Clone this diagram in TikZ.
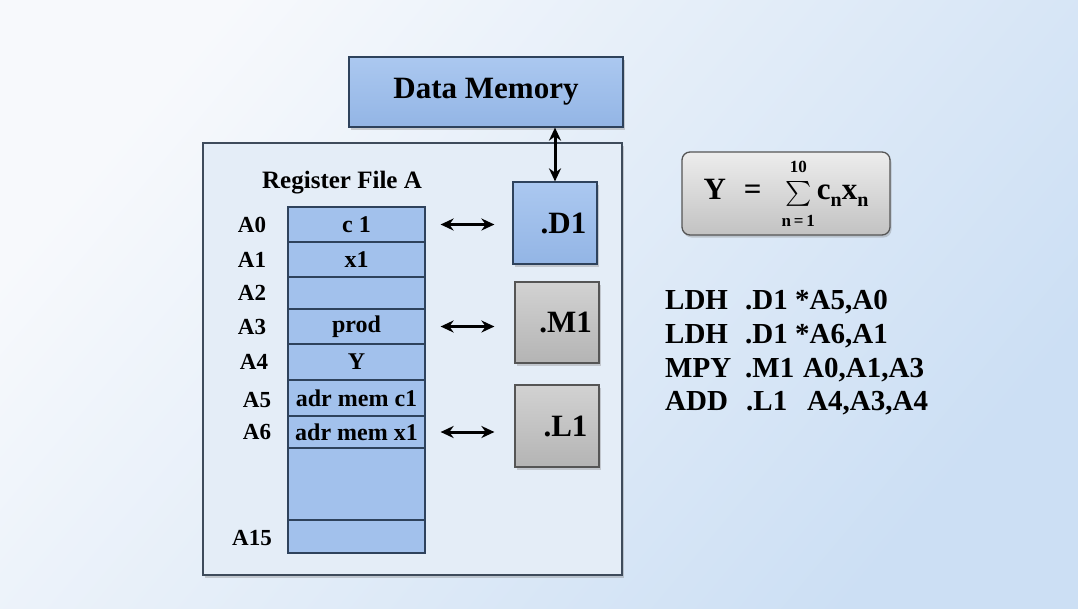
\documentclass[tikz,border=0pt]{standalone}
\usepackage{amsmath}
\usepackage{fontspec}
\setmainfont{Liberation Serif}
\usetikzlibrary{arrows.meta,shadows}
\definecolor{bgA}{HTML}{F7F9FC}
\definecolor{bgB}{HTML}{CCDFF4}
\definecolor{frameFill}{HTML}{E4EDF7}
\definecolor{frameLine}{HTML}{3E4B5B}
\definecolor{blueA}{HTML}{ABC8F0}
\definecolor{blueB}{HTML}{93B5E5}
\definecolor{cellFill}{HTML}{A2C1EC}
\definecolor{blueLine}{HTML}{2E425C}
\definecolor{grayA}{HTML}{D2D2D2}
\definecolor{grayB}{HTML}{B4B4B4}
\definecolor{fgrayA}{HTML}{EDEDED}
\definecolor{fgrayB}{HTML}{C2C2C2}
\definecolor{grayLine}{HTML}{555555}
\tikzset{
  fs/.style={font=\bfseries\fontsize{#1}{#1}\selectfont},
  shad/.style={drop shadow={opacity=0.35, shadow xshift=1.5pt, shadow yshift=-2.5pt}},
  framebox/.style={draw=frameLine, line width=1.3pt, fill=frameFill, shad, inner sep=0pt},
  bluebox/.style={draw=blueLine, line width=1.2pt, top color=blueA, bottom color=blueB, shad, inner sep=0pt},
  graybox/.style={draw=grayLine, line width=1.2pt, top color=grayA, bottom color=grayB, shad, inner sep=0pt},
  formbox/.style={draw=grayLine, line width=1.3pt, rounded corners=8pt, top color=fgrayA, bottom color=fgrayB, shad, inner sep=0pt},
  cell/.style={draw=blueLine, line width=1.2pt, fill=cellFill, minimum width=137pt, inner sep=0pt, fs=24},
  lab/.style={fs=23, inner sep=0pt},
  codeline/.style={fs=29, anchor=base west, inner sep=0pt},
  link/.style={{Stealth[length=13pt,width=12pt]}-{Stealth[length=13pt,width=12pt]}, line width=3pt},
}
\begin{document}
\begin{tikzpicture}[x=1pt,y=-1pt]
\useasboundingbox (0,0) rectangle (1078,608);
\shade[top color=bgA, bottom color=bgB, shading angle=50] (0,0) rectangle (1078,608);

% frame and data memory
\node[framebox, minimum width=419pt, minimum height=432pt] (frame) at (412.5,359) {};
\node[bluebox, minimum width=274pt, minimum height=70pt, fs=31] (dm) at (486,92) {Data Memory};

% functional units
\node[bluebox, minimum width=84pt, minimum height=82pt, fs=31] (d1) at (555,223) {\hspace*{17pt}.D1};
\node[graybox, minimum width=84pt, minimum height=81pt, fs=31] (m1) at (557,322.5) {\hspace*{17pt}.M1};
\node[graybox, minimum width=84pt, minimum height=82pt, fs=31] (l1) at (557,426) {\hspace*{17pt}.L1};

% register file
\node[fs=25, inner sep=0pt] (rfa) at (342,183) {Register File A};
\node[cell, minimum height=35pt] (r0) at (356.5,224.5) {c 1};
\node[cell, minimum height=35pt] (r1) at (356.5,259.5) {x1};
\node[cell, minimum height=32pt] (r2) at (356.5,293) {};
\node[cell, minimum height=35pt] (r3) at (356.5,326.5) {prod};
\node[cell, minimum height=36pt] (r4) at (356.5,362) {Y};
\node[cell, minimum height=36pt] (r5) at (356.5,398) {adr mem c1};
\node[cell, minimum height=32pt] (r6) at (356.5,432) {adr mem x1};
\node[cell, minimum height=72pt] (r7) at (356.5,484) {};
\node[cell, minimum height=33pt] (r8) at (356.5,536.5) {};

\node[lab] (a0) at (252,224.5) {A0};
\node[lab] (a1) at (252,259.5) {A1};
\node[lab] (a2) at (252,293) {A2};
\node[lab] (a3) at (252,326.5) {A3};
\node[lab] (a4) at (254,362) {A4};
\node[lab] (a5) at (257,400) {A5};
\node[lab] (a6) at (257,432) {A6};
\node[lab] (a15) at (252,538) {A15};

% connectors
\draw[link] (d1.north) -- (d1.north |- dm.south);
\draw[link, shorten <=15pt, shorten >=18pt] (r0.east) -- (r0.east -| d1.west);
\draw[link, shorten <=15pt, shorten >=20pt] (r3.east) -- (r3.east -| m1.west);
\draw[link, shorten <=15pt, shorten >=20pt] (r6.east) -- (r6.east -| l1.west);

% formula
\node[formbox, minimum width=208pt, minimum height=83pt] (form) at (786,193.5)
  {\bfseries\fontsize{31}{31}\selectfont Y\hspace{18pt}=\hspace{20pt}%
   $\sum\limits_{\raisebox{-5pt}{\fontsize{17}{17}\selectfont\bfseries n\,=\,1}}^{\raisebox{4pt}{\fontsize{17}{17}\selectfont\bfseries 10}}$%
   \hspace{2pt}c\raisebox{-7pt}{\fontsize{20}{20}\selectfont n}x\raisebox{-7pt}{\fontsize{20}{20}\selectfont n}};

% code
\node[codeline] (c1) at (665,309) {\makebox[80pt][l]{LDH}\makebox[50pt][l]{.D1}*A5,A0};
\node[codeline] (c2) at (665,343) {\makebox[80pt][l]{LDH}\makebox[50pt][l]{.D1}*A6,A1};
\node[codeline] (c3) at (665,377) {\makebox[80pt][l]{MPY}\makebox[58pt][l]{.M1}A0,A1,A3};
\node[codeline] (c4) at (665,410) {\makebox[81pt][l]{ADD}\makebox[61pt][l]{.L1}A4,A3,A4};
\end{tikzpicture}
\end{document}
